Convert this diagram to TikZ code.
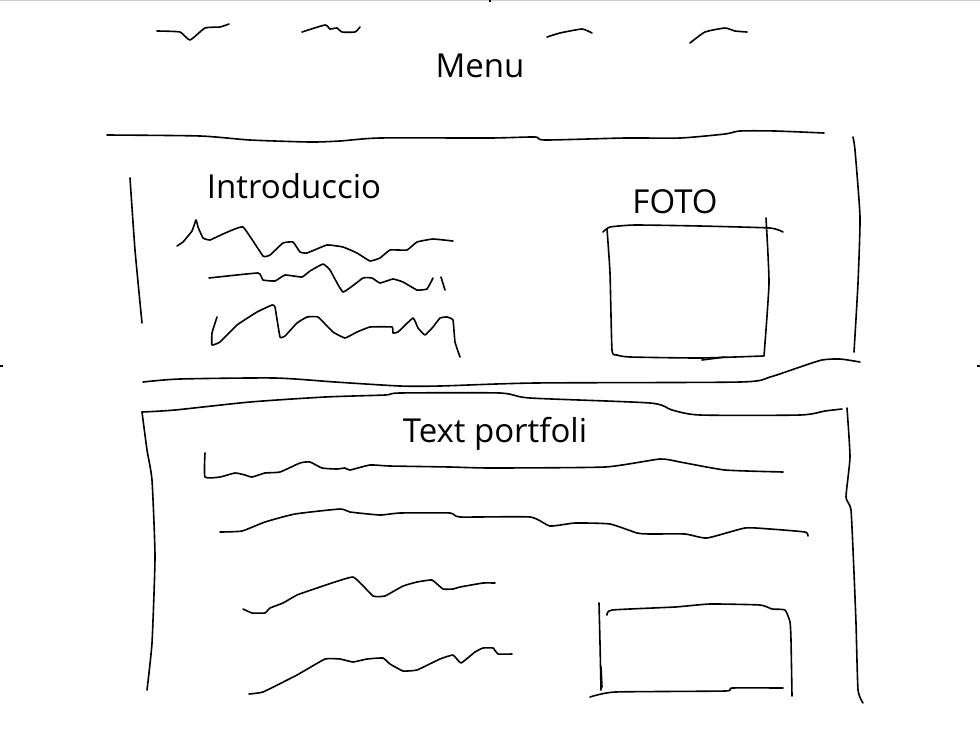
\documentclass[tikz,border=0pt]{standalone}
\usepackage{fontspec}
\setmainfont{Open Sans}
\usepackage{tikz}

\begin{document}
\begin{tikzpicture}[x=1pt, y=-1pt,
                   pen/.style={line width=1.6pt, line cap=round, line join=round},
                   label/.style={font=\fontsize{33}{38}\selectfont, inner sep=0pt}]
  \useasboundingbox (0,0) rectangle (980,729);
  \draw[gray!40, line width=1pt] (0,0.5) -- (980,0.5);
  \draw[line width=1.5pt] (490,0) -- (490,2) (0,366) -- (3,366) (977,366) -- (980,366);

  % menu
  \draw[pen] plot[smooth, tension=0.3] coordinates {(157,31) (180,32) (190,40) (205,28) (220,27) (229,24)};
  \draw[pen] plot[smooth, tension=0.3] coordinates {(302,32) (325,25) (330,29) (337,28) (342,32) (355,32) (360,27)};
  \draw[pen] plot[smooth, tension=0.3] coordinates {(547,37) (560,33) (582,29) (592,33)};
  \draw[pen] plot[smooth, tension=0.3] coordinates {(690,43) (705,32) (725,28) (735,31) (747,32)};
  \node[label] (menu) at (480,66) {Menu};
  \draw[pen] plot[smooth, tension=0.4] coordinates {(107,135) (200,136) (250,140) (310,142) (340,141) (380,138) (490,138) (535,137) (545,140) (625,138) (680,138) (725,134) (740,131) (775,131) (824,133)};

  % introduccio
  \draw[pen] plot[smooth, tension=0.3] coordinates {(130,178) (135,250) (142,323)};
  \draw[pen] plot[smooth, tension=0.3] coordinates {(853,137) (855,150) (860,217) (858,283) (854,352)};
  \node[label] (intro) at (294,186) {Introduccio};
  \draw[pen] plot[smooth, tension=0.2] coordinates {(177,246) (183,242) (192,231) (196,220) (198,227) (203,238) (210,240) (223,234) (243,227) (263,256) (270,255) (283,243) (293,242) (300,252) (307,253) (327,245) (343,247) (357,253) (370,261) (380,258) (390,250) (407,250) (417,242) (433,239) (453,241)};
  \draw[pen] plot[smooth, tension=0.2] coordinates {(209,278) (258,273) (263,280) (275,281) (285,275) (302,277) (310,271) (323,264) (330,270) (343,292) (363,278) (372,278) (380,283) (393,279) (403,282) (417,290) (427,289) (433,278)};
  \draw[pen] (441,277) -- (445,290);
  \draw[pen] plot[smooth, tension=0.2] coordinates {(217,317) (212,333) (212,345) (220,342) (237,325) (257,312) (272,305) (275,307) (280,337) (285,336) (297,323) (307,317) (318,317) (333,332) (345,338) (357,332) (370,327) (392,327) (393,333) (398,332) (413,318) (418,328) (425,335) (433,327) (440,318) (447,317) (453,320) (455,342) (460,357)};

  % foto
  \node[label] (foto) at (675,202) {FOTO};
  \draw[pen] plot[smooth, tension=0.3] coordinates {(603,232) (610,227) (635,225) (700,226) (770,228) (783,232)};
  \draw[pen] plot[smooth, tension=0.3] coordinates {(607,229) (610,273) (612,350) (617,355) (630,357) (700,358) (763,356)};
  \draw[pen] plot[smooth, tension=0.3] coordinates {(766,218) (769,283) (764,356)};
  \draw[pen] (702,360) -- (725,357);

  % separator
  \draw[pen] plot[smooth, tension=0.4] coordinates {(143,382) (180,379) (275,378) (335,382) (400,386) (440,386) (535,383) (740,382) (770,377) (800,367) (822,360) (840,359) (860,362)};

  % text portfoli
  \draw[pen] plot[smooth, tension=0.4] coordinates {(142,412) (175,410) (250,402) (325,397) (385,395) (400,393) (500,393) (530,398) (650,403) (672,410) (700,415) (800,415) (825,411) (842,409)};
  \draw[pen] plot[smooth, tension=0.3] coordinates {(142,412) (147,450) (152,480) (155,557) (152,643) (147,690)};
  \draw[pen] plot[smooth, tension=0.3] coordinates {(847,408) (850,457) (846,497) (851,510) (854,573) (856,623) (858,690) (863,703)};
  \node[label] (portfoli) at (495,434) {Text portfoli};
  \draw[pen] plot[smooth, tension=0.3] coordinates {(205,453) (205,477) (220,477) (235,473) (245,475) (252,477) (265,473) (280,472) (300,463) (310,462) (322,468) (337,469) (345,468) (350,470) (370,465) (390,466) (450,467) (490,468) (605,467) (660,459) (680,462) (725,470) (783,472)};
  \draw[pen] plot[smooth, tension=0.3] coordinates {(220,532) (242,531) (265,522) (295,514) (340,509) (350,512) (380,515) (400,513) (450,513) (460,517) (530,517) (550,526) (575,523) (610,524) (637,533) (650,534) (685,534) (707,538) (745,528) (770,529) (805,532) (808,536)};
  \draw[pen] plot[smooth, tension=0.2] coordinates {(243,609) (252,613) (265,613) (270,608) (283,603) (297,595) (317,588) (353,577) (373,596) (385,596) (403,586) (417,582) (432,580) (443,589) (453,589) (460,587) (483,583) (495,583)};
  \draw[pen] plot[smooth, tension=0.2] coordinates {(249,694) (263,692) (297,675) (325,659) (340,659) (353,662) (367,659) (383,658) (390,664) (403,671) (417,670) (440,659) (453,655) (461,663) (475,652) (483,648) (493,648) (498,654) (512,654)};

  % image
  \draw[pen] plot[smooth, tension=0.3] coordinates {(599,603) (600,643) (601,690)};
  \draw[pen] (601,667) -- (602,687);
  \draw[pen] plot[smooth, tension=0.3] coordinates {(607,615) (612,610) (675,607) (710,604) (760,605) (772,609) (785,610) (790,622) (791,640) (792,696)};
  \draw[pen] plot[smooth, tension=0.3] coordinates {(590,697) (615,692) (725,691) (732,688) (783,688)};
\end{tikzpicture}
\end{document}
